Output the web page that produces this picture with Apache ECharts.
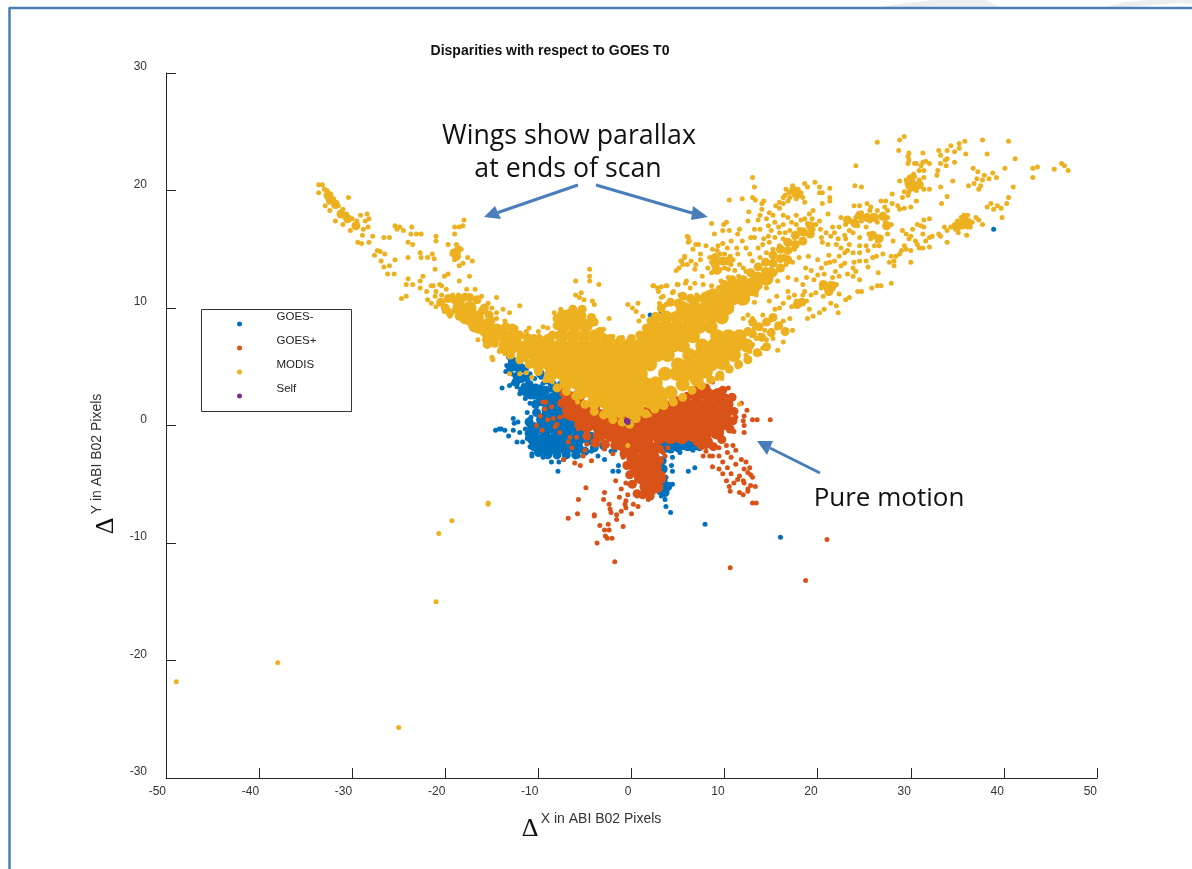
<!DOCTYPE html>
<html><head><meta charset="utf-8">
<style>html,body{margin:0;padding:0;background:#fff}#c{width:1192px;height:869px}</style>
<script src="https://cdn.jsdelivr.net/npm/echarts@6/dist/echarts.min.js"></script>
</head><body><div id="c"></div>
<script>
const xTicks=[-50,-40,-30,-20,-10,0,10,20,30,40,50];
const yTicks=[-30,-20,-10,0,10,20,30];
const seriesNames=['GOES-','GOES+','MODIS','Self'];
const selfPts=[[-0.5,0.4],[-0.4,0.3]];
// densely overplotted regions, read as solid areas
const goesMinusCore=[[-10.5,-0.3],[-9.3,-0.3],[-8.1,-0.3],[-6.9,-0.3],[-5.7,-0.3],[-10.5,-1.1],[-9.3,-1.1],[-8.1,-1.1],[-6.9,-1.1],[-5.7,-1.1],[-4.5,-1.1],[-9.5,-1.9],[-8.3,-1.9],[-7.1,-1.9],[-5.9,-1.9],[-9.5,0.5],[-8.3,0.5],[-7.1,0.5],[-5.9,0.5],[-8.9,1.3],[-7.7,1.3],[-6.5,1.3],[-9.5,2.2],[-8.5,2.2],[3.5,-1.6],[5,-1.6],[6.4,-1.6]];
const goesMinusMid=[[-11,3.5],[-10.3,3.2],[-9.6,3],[-10.8,2.6],[-10,2.6],[-9.2,3],[-8.5,3.5],[-8,2.8],[-7.6,2.2],[-10.3,1.8],[-10.2,1.1],[-11,0.3],[-11,-0.7],[-10.5,-1.8],[-10,-2.3],[-9,-2.5],[-8,-2.5],[-7,-2.5],[-6,-2.5],[-5,-2.2],[-4,-1.9],[-3,-1.7],[-12.3,4.2],[-11.8,4],[-11.3,4.1],[-12.6,5],[-11.7,3],[-9.8,4.4],[3.3,-1.7],[4.2,-2],[5,-1.9],[6,-1.8],[7.3,-1.8],[3.3,-3],[3.4,-3.7],[3.4,-4.7],[3.9,-5.2],[3.6,-5.7],[-12.8,5.5],[-12,5],[-11.5,4.8],[-13,4.9],[-12.4,3.7],[-10.7,3],[-11.3,2.8]];
const goesMinusPts=[[-14,-0.3],[-14.6,-0.4],[-14.2,-0.3],[-13.6,-0.4],[-13.2,-0.9],[-12.7,0.6],[-12.6,0.2],[-12.2,0.3],[-12.7,-0.4],[-12,-0.6],[-12.3,-1.4],[-11.7,-1.4],[-11.1,0.4],[-10.7,-2.4],[-10.7,-2.6],[-9.5,-2.7],[-8.6,-3.1],[-7.8,-3.1],[-7.9,-3.9],[-7.3,-2.9],[-5.7,-2.6],[-3.6,-2.6],[-2.9,-2.9],[-2,-3.9],[-1.4,-3.9],[-1.4,-3.4],[-1.8,-2.1],[-13.2,5.8],[-12.7,5.6],[-13.4,5.1],[-13,5.3],[-13.5,4.6],[-12.5,5.1],[-12.2,4.7],[-12.9,4.4],[-13.9,3.2],[-13.1,3.4],[-12.7,3.6],[-12.3,3.3],[-11.6,3.4],[-10.9,3.6],[-12,2.7],[-11.4,2.3],[-10.9,1.9],[-10.4,2.4],[-9.8,1.9],[-9.1,2.4],[-9.8,3.3],[-10.4,4],[-9.5,3.6],[-8.6,3],[-8.8,2.1],[-8,1.9],[-10.9,4.4],[-10.2,4.7],[-9.7,4.1],[-9.1,3.7],[-7.7,2.7],[-7.7,3.6],[-11.2,1.1],[-10.8,0.7],[-11.4,-0.3],[-11.2,-1.1],[-10.9,-1.8],[-4.3,-2.2],[-3,-1.9],[-2.2,-2.2],[2.7,-2.6],[3.7,-2.1],[4.4,-2.7],[5.2,-2.3],[5.5,-1.9],[6.6,-2.1],[7,-1.9],[4.3,-3.4],[4.4,-3.9],[3.7,-4.4],[4.4,-5],[4,-5],[3.4,-5.3],[3.2,-6],[3.6,-6.3],[3,-5.7],[3.7,-6.9],[4.2,-7.4],[6.1,-3.9],[6.8,-3.6],[7.9,-8.4],[16,-9.5],[38.9,16.7],[3.2,9.7],[2.2,9],[2,9.4],[7,3.2]];
const goesPlusCore=[[7,2.6],[8.2,2.6],[9.3,2.6],[4.6,1.8],[5.8,1.8],[7,1.8],[8.2,1.8],[9.4,1.8],[10.2,1.8],[1.6,1],[2.8,1],[4,1],[5.2,1],[6.4,1],[7.6,1],[8.8,1],[10,1],[0.6,0.2],[1.8,0.2],[3,0.2],[4.2,0.2],[5.4,0.2],[6.6,0.2],[7.8,0.2],[9,0.2],[10,0.2],[-0.4,-0.6],[0.8,-0.6],[2,-0.6],[3.2,-0.6],[4.4,-0.6],[5.6,-0.6],[6.8,-0.6],[8,-0.6],[9.2,-0.6],[0.4,-1.2],[1.6,-1.2],[3,-1],[4.2,-1],[5.4,-1],[7.2,-1.2],[8,-1.4],[0.2,-2],[1.4,-2],[2.3,-2],[0.2,-2.8],[1.4,-2.8],[2.3,-2.8],[0.5,-3.6],[1.7,-3.6],[2.5,-3.6],[1,-4.4],[2.2,-4.4],[3,-4.4],[1.6,-5.2],[2.6,-5.2],[-6.8,2.4],[-5.8,2.4],[-6.5,1.6],[-5.3,1.6],[-4.1,1.6],[-5.8,0.8],[-4.6,0.8],[-3.4,0.8],[-2.2,0.8],[-1,0.8],[-4.8,0],[-3.6,0],[-2.4,0],[-1.2,0],[0,0],[-3.4,-0.8],[-2.2,-0.8],[-1,-0.8],[0.2,-0.8],[-1.4,-1.5],[-0.4,-1.6]];
const goesPlusMid=[[10.8,2.4],[11,1.2],[10.9,0.4],[10.6,-0.3],[9.7,-1.2],[8.8,-1.8],[7.5,-1.7],[6.5,-1],[9.8,3],[8,3.2],[7,3],[6,2.5],[5,2.1],[-0.8,-2.4],[-0.5,-3.4],[-0.2,-4.2],[0.1,-5],[0.6,-5.8],[1.2,-5.9],[2,-6],[2.9,-5.3],[3,-3],[3,-2],[-7.2,2.9],[-7.5,1.9],[-7,1.3],[-6.6,0.8],[-5.6,0.2],[-4.8,-0.9],[-3.9,-1.5],[-2.8,-1.6],[-1.8,-1.7],[-0.9,-1.9]];
const goesPlusPts=[[8.7,3.7],[10.4,3.2],[10.2,2.5],[11.8,1.9],[12.4,1.3],[11.2,0.7],[12.1,0.8],[12,0.4],[12.1,0],[13,0.5],[13.5,0.5],[14.9,0.5],[11,-0.5],[12.1,-0.6],[8,-2.2],[8.4,-2.6],[7.7,-2.6],[9.4,-1.9],[10.2,-1.7],[10.9,-1.7],[11.2,-2.1],[10.3,-2.3],[9.4,-2.6],[8.7,-2.6],[10.7,-2.7],[11.8,-2.9],[9.8,-3.1],[8.7,-3.5],[9.4,-3.7],[10.3,-3.6],[11.2,-3.3],[12.3,-3.1],[12.7,-3.6],[12.1,-3.7],[9.8,-4.1],[10.7,-4.1],[11.6,-4.3],[12.5,-4],[12.8,-4.2],[10.2,-4.7],[11,-4.9],[12.1,-4.9],[13,-4.4],[10.5,-5.2],[12.5,-5.4],[12.8,-5.1],[13.3,-5.2],[11.6,-5.7],[12,-5.9],[12.5,-5.6],[10.6,-5.6],[13,-6.6],[13.4,-6.6],[11.4,-4.6],[12,-4.7],[-4.9,-5.3],[-5.7,-6.3],[-6.8,-7.9],[-5.8,-7.5],[-4,-7.7],[-4,-7.6],[-3,-6.3],[-2.9,-5.7],[-1.7,-4.7],[-0.6,-4.9],[-1.1,-5.4],[-0.2,-5],[-1.3,-6.1],[-0.4,-5.9],[-2.4,-6.7],[-2.3,-7.1],[-2.2,-7.4],[-1.6,-7.6],[-1.6,-8],[-1.1,-7.3],[-0.6,-7],[0,-7.5],[-0.9,-8.6],[-2.5,-8.4],[-3.4,-8.5],[-2.9,-8.9],[-2.4,-8.9],[-2.8,-9.4],[-2.6,-9.6],[-2.1,-9.6],[-3.7,-10],[-1.8,-11.6],[-0.7,-6.7],[0.2,-6.7],[0.7,-6.9],[1.8,-6.3],[2.3,-5.7],[-0.6,-6.4],[0.6,-6],[1.2,-5.8],[10.6,-12.1],[18.7,-13.2],[21,-9.7],[-9.5,2],[-9.2,2],[-8.6,1.6],[-9.3,1.4],[-9.8,0.8],[-10.2,0],[-9.6,-0.4],[-9,0.5],[-8.4,0.6],[-7.7,0.7],[-8,0.1],[-8.2,-0.1],[-7.7,-0.6],[-6.8,-1.4],[-6.4,-1.9],[-5.9,-1],[-5.7,-0.3],[-4.8,-1.6],[-5,-2.1],[-7.3,-2.9],[-5.2,-2.6],[-6.1,-3.2],[-5.5,-3.4],[-4.3,-3],[-6.6,1.1],[-7.2,0.8],[-6.4,0.6],[-5.9,0],[-7.5,2.7],[-7,2.3],[-7.5,2],[-6.6,-1],[-4.1,-1.3],[-3.6,-1.6],[-2.9,-2],[-2,-2.4],[-0.9,-2.7],[-0.9,-2.5],[3.6,-2.6],[3.4,-2.3],[3.9,-1.9],[2.9,-4.9],[3.1,-5.1],[3.3,-4.6]];
const modisCore=[[-6.8,9.3],[-5.6,9.3],[-16.8,8.5],[-15.6,8.5],[-7.3,8.5],[-6.1,8.5],[-4.9,8.5],[-18.5,10],[-17.4,10],[-17.8,9.2],[-16.6,9.2],[-14.9,7.6],[-13.7,7.6],[-12.5,7.6],[-7.5,7.6],[-6.3,7.6],[-5.1,7.6],[-3.9,7.6],[-13.5,6.8],[-12.3,6.8],[-11.1,6.8],[-9.9,6.8],[-8.7,6.8],[-7.5,6.8],[-6.3,6.8],[-5.1,6.8],[-3.9,6.8],[-2.7,6.8],[-1.5,6.8],[-0.3,6.8],[-11.6,6],[-10.4,6],[-9.2,6],[-8,6],[-6.8,6],[-5.6,6],[-4.4,6],[-3.2,6],[-2,6],[-0.8,6],[0.4,6],[-10,5.2],[-8.8,5.2],[-7.6,5.2],[-6.4,5.2],[-5.2,5.2],[-4,5.2],[-2.8,5.2],[-1.6,5.2],[-0.4,5.2],[0.8,5.2],[-8.6,4.4],[-7.4,4.4],[-6.2,4.4],[-5,4.4],[-3.8,4.4],[-2.6,4.4],[-1.4,4.4],[-0.2,4.4],[1,4.4],[-7,3.6],[-5.8,3.6],[-4.6,3.6],[-3.4,3.6],[-2.2,3.6],[-1,3.6],[0.2,3.6],[1.4,3.6],[2.6,3.6],[-5.4,2.8],[-4.2,2.8],[-3,2.8],[-1.8,2.8],[-0.6,2.8],[0.6,2.8],[1.8,2.8],[3,2.8],[4.2,2.8],[-4,2],[-2.8,2],[-1.6,2],[-0.4,2],[0.8,2],[2,2],[3.2,2],[-2.4,1.2],[-1.2,1.2],[0,1.1],[0.6,1.3],[3.6,4.4],[4.8,4.4],[6,4.4],[7.2,4.4],[8,4.6],[5.5,3.5],[7,3.9],[5,5.2],[6.2,5.2],[7.4,5.2],[8.6,5.2],[9.8,5.3],[6.2,6],[7.4,6],[8.6,6],[9.8,6],[11,6],[7.6,6.8],[8.8,6.8],[10,6.8],[11.2,6.8],[12.4,6.8],[9.2,7.6],[10.4,7.6],[11.6,7.6],[2,5.2],[1.6,6],[2.8,6],[3.9,6],[0.9,6.8],[2.1,6.8],[3.3,6.8],[4.5,6.8],[5.5,6.8],[1.8,7.6],[3,7.6],[4.2,7.6],[5.4,7.6],[6.6,7.6],[2.5,8.4],[3.7,8.4],[4.9,8.4],[6.1,8.4],[7.3,8.4],[8.5,8.4],[3.7,9.2],[4.9,9.2],[6.1,9.2],[7.3,9.2],[8.5,9.2],[9.7,9.2],[5.5,10],[6.7,10],[7.9,10],[9.1,10],[10.3,10],[8.5,10.8],[9.7,10.8],[10.9,10.8],[12,10.8],[10.5,11.6],[11.7,11.6],[13,11.6],[13.5,12.5],[14.5,12.5]];
const modisMid=[[12,10.8],[12,11.6],[12,12.4],[12.8,11.4],[12.8,12.2],[12.8,13],[13.6,11.9],[13.6,12.7],[13.6,13.5],[14.4,12.3],[14.4,13.1],[14.4,13.9],[15.2,13],[15.2,13.8],[15.2,14.5],[16,13.4],[16,14.2],[16,15],[16.8,14.1],[16.8,14.9],[16.8,15.6],[17.6,15.4],[17.6,16.2],[18.4,15.7],[18.4,16.5],[19.2,16.3],[19.2,17],[12.5,8],[13,8.8],[13.7,8.4],[14.5,8.8],[15.2,9.2],[13,7.8],[14,7.5],[15,7.9],[15.8,8.5],[16.5,8],[5.5,11],[6.3,10.8],[7.1,10.8],[7.9,11],[8.7,11.3],[9.5,11.6],[4.2,10.5],[5,10.4],[10.3,11],[11,11.5],[3.2,10],[2.6,9.3],[10,12],[10.8,12.4],[11.5,12.1],[-20.5,10.5],[-19.7,10.8],[-19,10.7],[-18.2,10.8],[-17.4,10.9],[-16.6,10.7],[-15.8,10],[-20,10],[-16,9.8],[-15.3,9.4],[-15.2,9],[-14.5,8.3],[-19.5,9.6],[-18.5,9.3],[-17.5,8.9],[-16.5,8.2],[-15.7,7.8],[-14.7,7],[-13.9,6.5],[-15.5,6.9],[-14.8,8.3],[-14,8],[-13.5,8.4],[-12.8,8.3],[-12,7.7],[-11.2,7.5],[-10.5,7.4],[-9.8,7.3],[-9,7.4],[-8.5,7.7],[-8,8.5],[-8,9.1],[-7.5,9.5],[-6.3,9.9],[-5.3,9.9],[-4.3,9.2],[-4,8.8],[-3.4,8],[-3,7.5],[-2.3,7.4],[-1.2,7.3],[0,7.4],[0.9,7.7],[1.6,8.3],[2.1,8.9],[2.9,9.2],[24.5,17.9],[25.3,17.7],[26.1,17.7],[27,17.8],[27.4,17],[24,17.2],[23.2,17.5],[25.9,16.2],[26.6,15.9],[29.8,20.6],[30.4,20.3],[30.9,20.5],[30,21],[17.4,20],[17.9,19.7],[21,11.8],[21.6,11.9],[20.6,12],[21.2,11.4],[17.8,10.3],[18.3,10.5],[9,13.7],[9.8,14],[10.4,14],[9.2,13.2],[9,14.3],[-32.6,19.6],[-32.4,19.3],[-31.8,18.8],[-31.2,18],[-30.5,17.6],[-29.6,17],[-19,14.7],[-18.8,14.4],[35.3,17.1],[35.9,17.2],[35,16.9],[36.1,17.3],[-13,6],[-12,5.6],[-11,5.2],[-10,4.6],[-9,4],[-8,3.2],[-7,2.9],[-6,2.5],[-5,1.8],[-4,1.2],[-3,0.9],[-2,0.5],[-1,0.3],[-0.2,0.1],[0.5,0.6],[1.5,1],[2.5,1.4],[3.5,1.7],[4.5,2],[5.5,2.4],[6.5,3],[7.5,3.4],[8.5,3.9],[9.5,4.3],[10.5,4.8],[11.5,5.2],[12.5,5.6],[13.5,6.2],[14.5,6.7]];
const modisPts=[[-33.6,20.5],[-33.2,20.5],[-33.6,19.8],[-33,20.1],[-32.7,20],[-32.3,19.7],[-32.9,18.7],[-32.5,19],[-32,19.3],[-31.7,19],[-31.5,18.7],[-32.4,18.3],[-31,18.4],[-30.4,19.4],[-31.1,17.9],[-30.6,18],[-31.8,17.4],[-31,17.1],[-30,17.6],[-29.5,17.4],[-29.1,17.9],[-28.4,18],[-28.2,17.6],[-28.6,17.4],[-29.7,17],[-28.3,16.9],[-28.8,16.7],[-30.2,16.6],[-28.9,16.2],[-27.8,16.1],[-29.4,15.6],[-29,15.5],[-28.2,15.6],[-27.3,14.9],[-27,14.8],[-27.6,14.5],[-26.5,14.6],[-26.6,16],[-26,16],[-25.4,17],[-24.9,16.9],[-25.2,16.7],[-24.5,16.6],[-23.6,16.9],[-23.7,16.3],[-23.1,16.3],[-22.6,16.3],[-21,16.1],[-21,15.7],[-24,15.6],[-23.5,15.4],[-22.7,14.7],[-22.6,14.3],[-24,14.3],[-25.4,14.1],[-26.9,14],[-26,13.6],[-26.6,13.5],[-26.2,12.9],[-25.5,12.9],[-21.9,14.3],[-21.4,14.6],[-21.2,14.2],[-21.1,13.3],[-19.7,15.4],[-18.8,15.4],[-18.5,15.1],[-19.3,14.6],[-19,14.4],[-18.6,14.7],[-18.3,15],[-19,14.1],[-19.2,14.8],[-18.8,15],[-18,17.5],[-19,16.9],[-18.5,16.9],[-18.1,17],[-19,16.3],[-17.6,14.3],[-17.1,14],[-18.1,13.8],[-18.5,13.6],[-19.7,12.9],[-20.1,12.7],[-17.4,12.7],[-18.5,12.3],[-22.4,12.7],[-22.7,12.3],[-24,12.5],[-24.2,12],[-23.5,12],[-22.7,11.7],[-21.3,11.9],[-20.6,12],[-24.2,11],[-24.7,10.8],
[-14.5,10.9],[-12,10.2],[-13.8,9.9],[-13.1,9.6],[-14.5,9.1],[-13.6,8.9],[-14.2,8.4],[-14.9,8.9],[-15.6,8.3],[-16.1,7.9],[-16.5,7.3],[-15.8,7.3],[-15,7.7],[-16.7,8.4],[-17.4,8.7],[-18.1,8.9],[-19.2,9.7],[-20.1,9.7],[-21,10.1],[-21.5,10.4],[-21.9,10.7],[-22,11.4],[-21.5,11.9],[-21,11.4],[-20.4,11.9],[-21.1,11],[-20.4,11.1],[-19.9,11.6],[-19.2,11.1],[-18.6,11.1],[-17.7,11.6],[-16.8,11.6],[-17.9,11.1],[-16.1,11],[-15.4,10.4],[-14.5,9.6],[-15,10],[-16.1,8.6],[-14.2,6.3],[-13.6,6.1],[-14.9,5.6],[-12.7,6.3],[-11.3,8],[-9.9,7.6],[-9.5,8.4],[-9,8.3],[-8.3,9.6],[-7.6,9.9],[-6,11.1],[-5.4,11.3],[-5.1,10.7],[-4.5,13.3],[-4.5,12.7],[-4.5,12.3],[-6,12.3],[-3.5,12],[-4.2,10.6],[-4,10.3],[-5.6,10.9],[-2.4,9.1],[-0.4,10.3],[0.7,10.4],[0.1,10],[0.5,9.7],[1.2,9.3],[0.8,8.9],[2.3,11.9],[2.8,11.7],[3.7,11.9],[3.2,10.9],[3.7,10.3],[4.4,11.3],[4.9,12],[5.8,12.1],[5.7,14.3],[5.3,14],[6,16.1],[6.1,15.6],[6.9,15.4],[6.4,14],[6.9,13.7],[5.1,13.4],[-19.5,9.3],[-18.1,9.1],[-17.7,9],[-13.3,7.7],[-12.4,8.3],[-12,7.1],[-11,8.3],[-10,8],[-8.6,7.6],[-3,8.2],[-2,7.6],[-1,7.5],
[29.3,24.6],[28.8,24.3],[26.4,24.1],[28.7,23.4],[24.1,22.1],[29.8,23.2],[31.3,23.2],[29.7,22.9],[29.8,22.6],[30.4,22.3],[30.6,22.3],[31.3,22.4],[31.6,22.5],[32,22.3],[31.1,22.1],[29.7,22.3],[31.4,21.7],[30.9,21.7],[30.3,21.4],[30.4,21.2],[28.8,20.8],[29.5,20.9],[30.9,20.9],[31.4,21.1],[30.2,20.7],[30.6,20.6],[31.1,20.4],[29.7,20.3],[30,20.1],[29.3,19.9],[29.8,19.9],[31.4,20.1],[32,20.1],[30.6,20],[29.1,19.4],[29.7,19.6],[30.6,19.1],[28.6,18.7],[29.3,18.5],[30,18.6],[28.8,18.4],[34.3,23.8],[35.2,24],[35.8,24.2],[33.9,23.4],[34.7,23.3],[35.2,23.6],[35.9,23.1],[33,23.4],[33.2,23],[33.9,22.7],[34.7,22.4],[33.7,22.6],[33.2,22.3],[33.8,22.1],[32.9,21.7],[32.8,21.3],[34.5,20.8],[33.2,20.3],[33.9,19.5],[33.3,18.9],[37.7,24.3],[40.5,24.2],[38.2,23.1],[41.2,22.7],[40.1,21.9],[43.1,21.9],[43.6,22],[45.4,21.8],[43.1,21.1],[46.2,22.3],[46.5,22.1],[46.9,21.7],[36.7,21.9],[37.2,21.6],[37.1,21],[37.9,21.3],[37.7,20.9],[38.4,21],[38.8,21.5],[39.2,21.1],[36.8,20.6],[36.2,20.4],[37.3,20.1],[37.5,20.4],[41,20.3],[40.5,19.4],[38.6,18.9],[38.2,18.6],[39.3,18.7],[39.7,18.5],[40.3,18.9],[38.9,18.4],[39.8,17.7],[35.7,17.9],[36.1,17.9],[35.4,17.7],[35,17.4],[34.7,17.1],[34.3,16.9],[35.7,17.4],[36.3,17.4],[36.6,17.3],[35.4,17.1],[36.1,16.9],[36.4,16.9],[34.8,16.7],[35.6,16.9],[35.1,16.4],[36,16.2],[37,17.7],[37.3,17.5],[37.7,17.1],[33.6,16.9],[33.9,16.6],[33.9,15.6],[35.2,17.2],[35,16.9],[35.9,17.6],[36,17.1],
[32,17.6],[31.4,17.5],[30.7,17.1],[31.1,17],[31.4,16.9],[30.2,16.7],[29.1,16.6],[29.5,16.3],[29.8,15.9],[30,16.1],[31.3,16.3],[32.3,16.1],[32,16],[31.6,15.7],[30.5,15.7],[30.7,15.4],[31.3,15.1],[30.9,15.1],[32,15.2],[33.2,16.1],[33,16.3],[29.3,15.3],[29,14.9],[28.8,14.6],[29.5,15],[30,14.9],[28.1,15.7],[27.9,14.4],[28.4,14.4],[28.2,14],[27.7,13.9],[28.2,13.6],[30,13.9],[27,14.6],[27.9,12.1],[26.8,11.9],[26.4,11.9],[25.8,11.7],[28,19.7],[26.8,19.1],[27.3,19.1],[25.3,18.9],[24.5,18.7],[23.9,18.7],[25.7,18.6],[28,18.9],[27.2,18.6],[24.7,18.1],[25.6,18.3],[26.4,18.3],[27.5,18.3],[25.9,17.9],[26.8,17.7],[27.5,17.7],[24.1,17.7],[22.5,17.7],[23.6,17.4],[24.7,17.4],[25.6,17.4],[26.4,17.3],[27.3,17.3],[27.9,17.1],[23,17.1],[22.3,16.9],[21.6,16.9],[24.3,17],[25.2,16.9],[21.8,16.4],[20.9,16.4],[20.4,16],[21.4,16.1],[20.5,15.6],[21.1,15.4],[23.8,16.4],[25.5,16.3],[26.1,16.1],[26.8,16],[27.5,16.3],[24.5,16],[25.7,15.9],[26.4,15.7],[22.5,15.1],[23.4,15.4],[24.5,15.3],[25.2,15.3],[26.6,15.3],[26.1,15.3],[23.2,14.9],[22.9,14.7],[23.8,14.7],[24.5,14.7],[25.4,14.9],[25.9,14.3],[26.3,14.4],[25.2,14],[22.3,14.4],[21.3,13.9],[21.8,14],[22.5,13.6],[23.8,13.4],[24.5,14],[25.4,13.5],[26.5,13],[24.1,13.1],[23.2,12.9],[22.3,12.7],[21.6,12.6],[20.7,12.9],[20,14.1],[20.4,13.4],[23.8,12.7],[24.5,12.4],[24.7,11.4],[24.3,11.4],[23.4,10.9],[23,10.7],[22.3,11.2],[22,12],[21.4,12.1],[20.9,12],[20.4,11.7],[21.6,11.6],[21.1,11.4],[21.4,10.4],[22,10.2],[22.2,9.6],[20.7,9.9],[20.2,9.6],[19.1,9.9],[19.5,9.3],[18.9,9.1],[19.3,11.1],[18.6,11.4],[18.4,11.1],[17.7,10.6],[17.2,10.1],[18.1,10.4],[18.8,10.6],[16.8,11.4],[17.7,12.4],[18.4,12],[16.9,10.9],[17.5,11.1],[16.8,12.6],
[13,21.1],[13.2,20.3],[19.7,20.7],[18.6,20.6],[17.3,20.4],[16.6,20.1],[17.9,20.1],[18.9,20.3],[21.3,20.2],[20.2,20.3],[24,20.4],[24.7,20.3],[17.2,19.9],[16.3,19.4],[17.5,19.6],[18.4,19.4],[20.2,19.8],[20.5,19.8],[21.3,19.4],[21.3,19.1],[10.5,19.2],[11.9,19.3],[13,19.4],[13.3,19.2],[14.2,19.1],[14,18.9],[16.8,19.1],[15.9,19],[15.5,18.7],[18.6,19],[20.5,18.9],[14,18.4],[12.6,18.2],[14.8,18.1],[13.8,17.9],[13.6,17.5],[16.3,17.9],[16.8,17.7],[17.7,17.9],[19.5,18.3],[19.1,18],[18.6,17.6],[21.1,18],[20.2,17.4],[15.4,17.3],[16.3,17.1],[17.7,17.1],[19.8,17.1],[10.2,17.3],[9.9,17.1],[8.6,17.2],[14.7,17],[13.8,16.7],[11.6,16.7],[13.2,16.7],[11.4,16.3],[8.9,16.3],[9.8,16.6],[6.1,16],[6.2,15.7],[7.2,15.4],[8,15.3],[9.3,15.3],[9.8,15.5],[8.7,15],[6.6,15],[5.7,14.4],[5.4,14],[5.5,13.7],[6,13.7],[4.8,13.2],[6.8,13.3],[7.4,14.6],[7.4,14.1],[7.6,12.7],[8.4,14.3],[8.9,14.4],[9.5,14.6],[10,14.6],[10.6,14.4],[10.9,14.1],[8.6,13.9],[9.1,13.9],[9.7,13.9],[10.2,13.9],[10.7,13.7],[8.2,13.4],[8.9,13.3],[9.5,13.3],[10,13.4],[10.4,13.3],[8.6,13],[9.6,12.3],[11.1,13.2],[11.5,12.7],[9.7,11.7],[10.4,12.6],[12.3,13.1],[12,13.4],[11.6,13.7],[11.4,14.6],[11.3,15.1],[12.3,15.1],[12.7,14.6],[13.6,15.1],[14.1,15.4],[14.8,15.6],[13.2,16],[14.7,16.1],[15.9,16.4],[17,16.6],[18,16.7],[18.9,16.4],[19.5,16.7],[13,14],[13.8,14.3],[14.5,14.7],[15.2,15],[15.9,15.3],[16.6,15.6],[17.5,16],[18.6,16.3],[16.4,14.4],[17.5,15],[18,14.3],[19,14.4],[17.3,13.9],[16.6,13.7],[15.5,13.1],[14.5,12.7],[15,13.3],[13.8,13.4],[13.2,12.9],[12.3,12],[11.6,12.4],[10.8,11.6],[15.7,12.3],[14.5,11.7],[13.4,11.1],[13.2,10.5],[12.3,10.9],[11.8,10.4],[14.8,10.6],[15.6,11],[15.9,10],[16.3,10.4],[15.4,9.9],[14.1,9.4],[15,9],[16.3,8.9],[17,9.1],[17.3,8.1],[13,9.1],[12.5,9.4],[12,9.1],[13.2,8.3],[13.8,7.7],[14.3,8.1],[15,8.1],[15.6,8.3],[14.5,7.3],[15.2,7.4],[16.3,7.1],[14.1,6.6],[15.7,6.4],[13.4,7.4],[13,6.9],[13.8,6.1],[12.7,6.3],[11.6,6.9],[12.3,6],[9.7,4],[9.2,4],[11.4,5],[2.4,11.9],[3.2,11.8],[3.8,11.9],[2.9,11.4],[4.5,11.4],[5,12],[5.9,12.3],[6.3,11.7],[6.8,12.1],[7.7,12],[8.6,11.9],[5.2,11.1],[5.5,10.9],[6.4,11],[7,11.1],[8.2,11.3],[7.7,10.7],[3.4,11],[3,10.4],[3.8,10.3],[8.9,11.1],[9.8,11.6],[16.9,19.8],[17.7,19.3],[18.2,19.8],[16.5,19.6],[17,19.4],[15.9,18.5],[16.3,18.9],
[14.5,17.6],[15.2,17.9],[15,16.6],[15.8,16.9],[16.5,16.4],[17.2,17.3],[18.2,17.5],[18.9,17.2],[19.4,17.6],[20.3,16.7],[14.2,15.9],[15.4,16],[16.3,15.9],[12.5,17.4],[12.8,16],[11.9,15.7],[10.7,15.7],[10.5,16.6],[9.2,14.9],[10.3,15.1],[22.9,16.2],[22.2,15.9],[22,15.4],[23,15.9],[23.4,16.6],[21.2,14.5],[20.9,13.8],[21.9,13.1],[19.3,13.2],[18.7,13.4],[18.8,12.6],[19.6,12.4],[20,12.8],[19.8,11.3],[20.6,11],[22.9,13.8],[23.9,13.9],
[-13.1,4.4],[-12,4.4],[-11.3,4.5],[-10.7,4.1],[-9.3,3.8],[-8.5,3.7],[-6.8,2.8],[-6.1,2.5],[-5.5,2.4],[-5.8,2],[-0.4,-1.7],[1.9,0.9],[11.6,1.8],[9.2,4.1],[9.6,4.2],[-15,5.8],[-15.4,-6.7],[-48.9,-21.8],[-38,-20.2],[-25,-25.7],[-21,-15],[-20.7,-9.2],[-19.3,-8.1],[-15.4,-6.6]];

const arrowColor='#4a7ebb';
function arrow(a,b,p,q){return [
 {type:'line',shape:{x1:a[0],y1:a[1],x2:(p[0]+q[0])/2,y2:(p[1]+q[1])/2},style:{stroke:arrowColor,lineWidth:3},z:50},
 {type:'polygon',shape:{points:[b,p,q]},style:{fill:arrowColor},z:50}];}
function label(text,x,y,font,extra){return Object.assign({type:'text',x:x,y:y,z:60,style:Object.assign({text:text,font:font,fill:'#111',align:'center',verticalAlign:'middle'},extra&&extra.style)},extra&&extra.el);}
const ff='"Open Sans"';
const graphic=[
 {type:'polygon',shape:{points:[[880,7],[905,3],[935,0],[985,0],[1000,7]]},style:{fill:'#eeeeee'},z:0},
 {type:'polygon',shape:{points:[[1107,7],[1125,2],[1150,0],[1192,0],[1192,4],[1180,3],[1125,7]]},style:{fill:'#eeeeee'},z:0},
 {type:'line',shape:{x1:9.5,y1:8,x2:9.5,y2:869},style:{stroke:arrowColor,lineWidth:2.5},z:1},
 {type:'line',shape:{x1:8.5,y1:8,x2:1192,y2:8},style:{stroke:arrowColor,lineWidth:2.5},z:1},
 {type:'rect',shape:{x:201.5,y:309.5,width:150,height:102},style:{fill:'#fff',stroke:'#333',lineWidth:1},z:20},
 ...arrow([578,185],[484,217],[495,206],[501,219]),
 ...arrow([596,185],[708,217],[693,206],[691,220]),
 ...arrow([820,473],[757,441],[773,441],[767,455]),
 label('Wings show parallax',569,136,'26.7px '+ff),
 label('at ends of scan',568,169,'26.7px '+ff),
 label('Pure motion',889,499,'26px '+ff),
 label('X in ABI B02 Pixels',601,819,'14px "Liberation Sans"',{style:{fill:'#333'}}),
 label('Δ',530,829,'26px "Liberation Serif"'),
 label('Y in ABI B02 Pixels',97,454,'14px "Liberation Sans"',{style:{fill:'#333'},el:{rotation:Math.PI/2}}),
 label('Δ',106,526,'26px "Liberation Serif"',{el:{rotation:Math.PI/2}})
];
function scatter(name,data,size,color,z){return {name:name,type:'scatter',data:data,symbol:'circle',symbolSize:size,itemStyle:{color:color,opacity:1},z:z,silent:true,animation:false};}
const axisCommon={type:'value',splitLine:{show:false},
 axisLine:{show:true,onZero:false,lineStyle:{color:'#262626',width:1}},
 axisTick:{show:true,inside:true,length:10,lineStyle:{color:'#262626',width:1}}};
const colors={minus:'#0072bd',plus:'#d95319',modis:'#edb120',self:'#7e2f8e'};
const chart=echarts.init(document.getElementById('c'),null,{renderer:'canvas'});
chart.setOption({
 animation:false,backgroundColor:'#fff',
 title:{text:'Disparities with respect to GOES T0',left:545,top:39,textAlign:'center',textStyle:{fontFamily:'Liberation Sans',fontSize:14,fontWeight:'bold',color:'#111'}},
 grid:{left:166,width:931,top:73,height:705,containLabel:false},
 xAxis:Object.assign({},axisCommon,{min:xTicks[0],max:xTicks[xTicks.length-1],interval:10,
  axisLabel:{margin:8,align:'right',fontFamily:'Liberation Sans',fontSize:12,color:'#333'}}),
 yAxis:Object.assign({},axisCommon,{min:yTicks[0],max:yTicks[yTicks.length-1],interval:10,
  axisLabel:{margin:19,verticalAlign:'bottom',fontFamily:'Liberation Sans',fontSize:12,color:'#333'}}),
 legend:{data:seriesNames.map(n=>({name:n,icon:'circle'})),orient:'vertical',left:237,top:310,padding:0,itemWidth:6,itemHeight:5,itemGap:-4,z:30,selectedMode:false,
  formatter:n=>n+'\n ',
  textStyle:{fontFamily:'Liberation Sans',fontSize:11.5,lineHeight:14,color:'#222',padding:[0,0,0,29]}},
 graphic:graphic,
 series:[
  scatter(seriesNames[0],goesMinusCore,14,colors.minus,2),
  scatter(seriesNames[0],goesMinusMid,9,colors.minus,2),
  scatter(seriesNames[0],goesMinusPts,5,colors.minus,2),
  scatter(seriesNames[1],goesPlusCore,14,colors.plus,3),
  scatter(seriesNames[1],goesPlusMid,9,colors.plus,3),
  scatter(seriesNames[1],goesPlusPts,5,colors.plus,3),
  scatter(seriesNames[2],modisCore,14,colors.modis,4),
  scatter(seriesNames[2],modisMid,9,colors.modis,4),
  scatter(seriesNames[2],modisPts,5,colors.modis,4),
  scatter(seriesNames[3],selfPts,6,colors.self,5)
 ]
});
</script></body></html>
